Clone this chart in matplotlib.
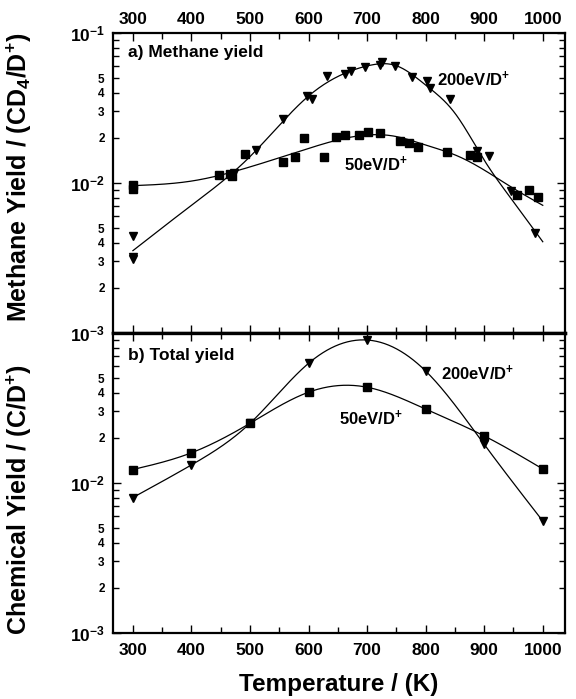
import numpy as np
import matplotlib
matplotlib.use('Agg')
import matplotlib.pyplot as plt
from matplotlib.ticker import FixedLocator, FixedFormatter, MultipleLocator

plt.rcParams['font.family'] = ['Liberation Sans', 'DejaVu Sans']
plt.rcParams['font.weight'] = 'bold'
plt.rcParams['mathtext.fontset'] = 'custom'
plt.rcParams['mathtext.rm'] = 'Liberation Sans:bold'
plt.rcParams['mathtext.bf'] = 'Liberation Sans:bold'
plt.rcParams['mathtext.it'] = 'Liberation Sans:bold'

# ---------------- data: a) methane yield ----------------
meth_T_200 = [300, 300, 300, 466, 472, 511, 556, 598, 606, 631, 662, 672, 697, 722, 725,
              747, 777, 802, 807, 842, 887, 908, 946, 986]
meth_Y_200 = [0.0044, 0.0032, 0.0031, 0.0113, 0.0117, 0.0166, 0.0267, 0.038, 0.0363, 0.052,
              0.053, 0.0558, 0.0596, 0.061, 0.0638, 0.0605, 0.0511, 0.0479, 0.0428, 0.0361,
              0.0164, 0.0152, 0.0089, 0.00462]
meth_T_50 = [300, 300, 447, 466, 470, 491, 556, 576, 592, 626, 647, 662, 686, 702, 722,
             757, 772, 787, 837, 876, 887, 956, 976, 992]
meth_Y_50 = [0.0097, 0.0091, 0.0113, 0.0115, 0.0111, 0.0155, 0.0139, 0.015, 0.0199, 0.0148,
             0.0202, 0.0209, 0.0209, 0.0218, 0.0214, 0.0191, 0.0186, 0.0175, 0.0162, 0.0154,
             0.015, 0.0083, 0.009, 0.0081]
# fitted curves
fit_T_200 = [300, 400, 500, 600, 700, 750, 800, 850, 900, 950, 1000]
fit_Y_200 = [0.00354, 0.0071, 0.015, 0.038, 0.0603, 0.0605, 0.045, 0.0292, 0.0142, 0.0075, 0.00406]
fit_T_50 = [300, 400, 500, 600, 700, 750, 800, 850, 900, 950, 1000]
fit_Y_50 = [0.0096, 0.0103, 0.0128, 0.017, 0.0209, 0.0204, 0.0179, 0.0154, 0.0122, 0.0092, 0.0071]

# ---------------- data: b) total yield ----------------
tot_T = [300, 400, 500, 600, 700, 800, 900, 1000]
tot_Y_50 = [0.0123, 0.0159, 0.025, 0.0403, 0.0435, 0.0311, 0.0206, 0.0124]
tot_Y_200 = [0.008, 0.0132, 0.025, 0.0628, 0.0898, 0.0558, 0.0181, 0.00558]

x_ticks = [300, 400, 500, 600, 700, 800, 900, 1000]


def natural_spline(x, y, xs):
    x = np.asarray(x, float); y = np.asarray(y, float)
    n = len(x); h = np.diff(x)
    A = np.zeros((n, n)); b = np.zeros(n)
    A[0, 0] = A[-1, -1] = 1
    for i in range(1, n - 1):
        A[i, i - 1] = h[i - 1]; A[i, i] = 2 * (h[i - 1] + h[i]); A[i, i + 1] = h[i]
        b[i] = 3 * ((y[i + 1] - y[i]) / h[i] - (y[i] - y[i - 1]) / h[i - 1])
    c = np.linalg.solve(A, b)
    bb = (y[1:] - y[:-1]) / h - h * (2 * c[:-1] + c[1:]) / 3
    d = (c[1:] - c[:-1]) / (3 * h)
    idx = np.clip(np.searchsorted(x, xs) - 1, 0, n - 2)
    dx = xs - x[idx]
    return y[idx] + bb[idx] * dx + c[idx] * dx ** 2 + d[idx] * dx ** 3


def smooth_log(x, y):
    xs = np.linspace(min(x), max(x), 400)
    return xs, 10 ** natural_spline(x, np.log10(y), xs)


W, H = 576, 699
fig = plt.figure(figsize=(W / 100, H / 100), dpi=100)
L, R = 113, 565
ax1 = fig.add_axes([L / W, 1 - 333 / H, (R - L) / W, 300 / H])
ax2 = fig.add_axes([L / W, 1 - 633 / H, (R - L) / W, 300 / H])

mk = dict(color='black', linestyle='none')
minor_labs = [str(m) if m in (2, 3, 4, 5) else '' for e in (-3, -2) for m in range(2, 10)]
for ax in (ax1, ax2):
    ax.set_yscale('log')
    ax.set_ylim(1e-3, 1e-1)
    ax.set_xlim(266, 1038)
    ax.xaxis.set_major_locator(FixedLocator(x_ticks))
    ax.xaxis.set_minor_locator(MultipleLocator(50))
    ax.yaxis.set_minor_locator(FixedLocator([m * 10.0 ** e for e in (-3, -2) for m in range(2, 10)]))
    ax.yaxis.set_minor_formatter(FixedFormatter(minor_labs))
    ax.tick_params(which='both', direction='in', top=True, bottom=True, left=True, right=True,
                   width=1, colors='black')
    ax.tick_params(which='major', length=6, labelsize=12.5)
    ax.tick_params(which='minor', length=4, labelsize=8.5)
    ax.tick_params(axis='y', which='both', pad=6)
    for s in ax.spines.values():
        s.set_linewidth(1.6)

ax1.yaxis.set_major_locator(FixedLocator([1e-3, 1e-2, 1e-1]))
ax1.yaxis.set_major_formatter(FixedFormatter([r'$\mathbf{10^{-3}}$', r'$\mathbf{10^{-2}}$', r'$\mathbf{10^{-1}}$']))
ax2.yaxis.set_major_locator(FixedLocator([1e-3, 1e-2, 1e-1]))
ax2.yaxis.set_major_formatter(FixedFormatter([r'$\mathbf{10^{-3}}$', r'$\mathbf{10^{-2}}$', '']))

ax1.tick_params(axis='x', labeltop=True, labelbottom=False, pad=4)
ax2.tick_params(axis='x', labeltop=False, labelbottom=True, pad=7)
ax1.spines['bottom'].set_linewidth(2.4)
ax2.spines['top'].set_linewidth(2.4)

# panel a
ax1.plot(meth_T_200, meth_Y_200, marker='v', markersize=6, **mk)
ax1.plot(meth_T_50, meth_Y_50, marker='s', markersize=5.2, **mk)
xs, ys = smooth_log(fit_T_200, fit_Y_200)
ax1.plot(xs, ys, color='black', lw=0.9)
xs, ys = smooth_log(fit_T_50, fit_Y_50)
ax1.plot(xs, ys, color='black', lw=0.9)
ax1.text(291, 0.0736, 'a) Methane yield', fontsize=12.5, fontweight='bold', ha='left', va='center')
ax1.text(819, 0.049, r'200eV/D$^{+}$', fontsize=12, fontweight='bold', ha='left', va='center')
ax1.text(660, 0.0134, r'50eV/D$^{+}$', fontsize=12, fontweight='bold', ha='left', va='center')

# panel b
xs, ys = smooth_log(tot_T, tot_Y_200)
ax2.plot(xs, ys, color='black', lw=0.9)
xs, ys = smooth_log(tot_T, tot_Y_50)
ax2.plot(xs, ys, color='black', lw=0.9)
ax2.plot(tot_T, tot_Y_200, marker='v', markersize=6, **mk)
ax2.plot(tot_T, tot_Y_50, marker='s', markersize=5.2, **mk)
ax2.text(291, 0.0713, 'b) Total yield', fontsize=12.5, fontweight='bold', ha='left', va='center')
ax2.text(826, 0.054, r'200eV/D$^{+}$', fontsize=12, fontweight='bold', ha='left', va='center')
ax2.text(652, 0.0271, r'50eV/D$^{+}$', fontsize=12, fontweight='bold', ha='left', va='center')

fig.text(19 / W, 1 - 177 / H, r'Methane Yield / (CD$_{4}$/D$^{+}$)', rotation=90,
         fontsize=18, fontweight='bold', ha='center', va='center')
fig.text(19 / W, 1 - 500 / H, r'Chemical Yield / (C/D$^{+}$)', rotation=90,
         fontsize=18, fontweight='bold', ha='center', va='center')
fig.text(339 / W, 1 - 684 / H, 'Temperature / (K)', fontsize=17.5, fontweight='bold',
         ha='center', va='center')

fig.savefig('out.png', dpi=100)
